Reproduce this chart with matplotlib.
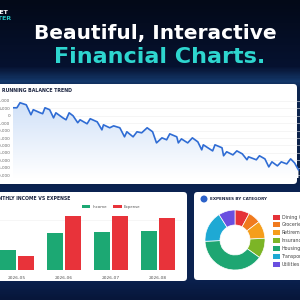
import numpy as np
import matplotlib.pyplot as plt
from matplotlib.patches import FancyBboxPatch, Rectangle, Polygon, Circle
from matplotlib.colors import LinearSegmentedColormap

# running balance (day offset, balance)
days = [0, 5, 9, 17, 23, 26, 35, 38, 41, 47, 52, 55, 64, 68, 72, 77, 83, 86, 95, 99,
        108, 114, 116, 124, 129, 137, 143, 146, 154, 159, 165, 172, 179, 184, 191, 197,
        201, 210, 212, 216, 224, 230, 237, 242, 244, 256, 259, 268, 270, 274, 282, 287,
        294, 300, 302, 312, 316, 323, 328, 332, 339, 344, 351, 356, 361, 366]
balance = [5400, 5400, 8800, 7400, 700, 4100, 2000, 1400, 5400, 4100, -1400, 2000,
           -1400, -2700, 2000, 0, -4700, -2700, -5400, -2000, -4100, -9500, -6100, -8100,
           -6800, -8100, -14200, -10800, -14200, -10800, -11500, -8100, -10800, -18300,
           -14900, -16200, -12200, -14200, -18300, -15600, -18300, -14900, -17600, -23000,
           -19600, -23700, -19600, -21600, -27000, -24300, -26400, -23700, -25700, -29700,
           -27700, -29700, -27000, -29100, -34500, -31100, -33800, -31100, -32500, -29100,
           -31800, -36500]
bal_ticks = [10000, 5000, 0, -5000, -10000, -15000, -20000, -25000, -30000, -35000, -40000]

months = ['2026-05', '2026-06', '2026-07', '2026-08']
income = [2000, 3700, 3800, 3900]
expense = [1400, 5400, 5400, 5200]

categories = ['Dining Out', 'Groceries', 'Retirement', 'Insurance', 'Housing', 'Transport', 'Utilities']
cat_values = [290, 250, 350, 400, 1460, 620, 330]
cat_colors = ['#e53238', '#f07a1e', '#f59e1c', '#7cb526', '#1ea672', '#1ea9d4', '#6a4fe0']

W = H = 300.0
def fx(p): return p / W
def fy(p): return 1 - p / H

fig = plt.figure(figsize=(3, 3), dpi=100)

# background gradient
bg = fig.add_axes([0, 0, 1, 1])
bg.set_axis_off()
bg.set_zorder(-10)
bgcmap = LinearSegmentedColormap.from_list('bg', [
    (0.0, '#030918'), (0.22, '#061230'), (0.27, '#14386a'), (0.29, '#0d2650'),
    (0.6, '#0a1f46'), (0.63, '#0b2452'), (0.93, '#0b2250'), (1.0, '#07163a')])
bg.imshow(np.linspace(0, 1, 300).reshape(-1, 1), cmap=bgcmap, aspect='auto', extent=[0, 1, 0, 1])
bg.set_xlim(0, 1)
bg.set_ylim(0, 1)

# logo bits
fig.text(fx(8.5), fy(12.5), 'BUDGET', color='white', fontsize=4.5, fontweight='bold', ha='right', va='center')
fig.text(fx(11.5), fy(18), 'MASTER', color='#27c6c4', fontsize=4.5, fontweight='bold', ha='right', va='center')

fig.text(fx(155), fy(33), 'Beautiful, Interactive', color='white', fontsize=14.5,
         fontweight='heavy', ha='center', va='center')
fig.text(fx(160), fy(57), 'Financial Charts.', color='#2ed6cf', fontsize=16,
         fontweight='heavy', ha='center', va='center')

def panel(x0, y0, x1, y1):
    p = FancyBboxPatch((fx(x0), fy(y1)), fx(x1 - x0), (y1 - y0) / H,
                       boxstyle='round,pad=0,rounding_size=0.012',
                       transform=fig.transFigure, facecolor='white', edgecolor='none', zorder=-5)
    fig.add_artist(p)

panel(-5, 84, 297, 184)
panel(-5, 192, 187, 281)
panel(194, 192, 305, 280)

# running balance
ax = fig.add_axes([fx(13), fy(178), fx(287), 80 / H])
ax.set_zorder(2)
ax.set_facecolor('none')
ax.set_yticks(bal_ticks)
ax.set_yticklabels([f'{v:,}' for v in bal_ticks])
ax.tick_params(axis='y', labelsize=3, colors='#666666', length=0, pad=2)
ax.tick_params(axis='x', length=0, labelbottom=False)
ax.grid(axis='y', color='#eeeeee', lw=0.4)
for s in ax.spines.values():
    s.set_visible(False)
ax.plot(days, balance, color='#2f6cd4', lw=1.2, zorder=3)
verts = list(zip(days, balance)) + [(days[-1], -42000), (days[0], -42000)]
poly = Polygon(verts, closed=True, facecolor='none', edgecolor='none')
ax.add_patch(poly)
fcmap = LinearSegmentedColormap.from_list('f', ['#ffffff', '#cfe0f8'])
im = ax.imshow(np.linspace(0, 1, 100).reshape(-1, 1), cmap=fcmap, aspect='auto',
               extent=[0, 368, -42000, 10000], origin='lower', zorder=2)
im.set_clip_path(poly)
ax.set_xlim(0, 368)
ax.set_ylim(-42000, 12000)
fig.text(fx(2), fy(91), 'RUNNING BALANCE TREND', color='#1b2440', fontsize=3.4,
         fontweight='bold', ha='left', va='center')

# income vs expense
bx = fig.add_axes([fx(-6.5), fy(270), fx(188), 64 / H])
bx.set_zorder(2)
bx.set_facecolor('none')
x = np.arange(len(months))
bx.bar(x - 0.185, income, 0.34, color='#1ca873', label='Income', zorder=3)
bx.bar(x + 0.185, expense, 0.34, color='#e8333a', label='Expense', zorder=3)
bx.set_xlim(-0.5, 3.5)
bx.set_ylim(0, 6400)
bx.set_xticks(x)
bx.set_xticklabels(months)
bx.tick_params(axis='x', labelsize=3.2, colors='#555555', length=0, pad=4)
bx.tick_params(axis='y', length=0, labelleft=False)
bx.grid(axis='y', color='#f0f0f0', lw=0.4)
for s in bx.spines.values():
    s.set_visible(False)
bx.axhline(0, color='#dddddd', lw=0.5)
fig.text(fx(70), fy(199), 'MONTHLY INCOME VS EXPENSE', color='#1b2440', fontsize=3.3,
         fontweight='bold', ha='right', va='center')
bx.legend(loc='center', bbox_to_anchor=(fx(111), fy(207)), bbox_transform=fig.transFigure,
          ncol=2, frameon=False, fontsize=2.8, handlelength=2.2, handleheight=1.0,
          columnspacing=1.6, handletextpad=0.5, labelcolor='#555555')

# expenses by category
dx = fig.add_axes([fx(205), fy(270), fx(60), 60 / H])
dx.set_zorder(2)
dx.pie(cat_values, colors=cat_colors, startangle=90, counterclock=False, radius=1,
       wedgeprops=dict(width=0.5, edgecolor='white', linewidth=0.5))
dx.set_xlim(-1.0, 1.0)
dx.set_ylim(-1.0, 1.0)
dx.set_aspect('equal')
fig.add_artist(Circle((fx(204), fy(199)), 3.5 / W, transform=fig.transFigure,
                      facecolor='#2c62c9', edgecolor='none'))
fig.text(fx(210), fy(199), 'EXPENSES BY CATEGORY', color='#1b2440', fontsize=3.0,
         fontweight='bold', ha='left', va='center')
for i, (c, col) in enumerate(zip(categories, cat_colors)):
    yy = 217 + i * 7.9
    fig.add_artist(Rectangle((fx(272.5), fy(yy + 2.5)), 7 / W, 5 / H,
                             transform=fig.transFigure, facecolor=col, edgecolor='none'))
    fig.text(fx(282), fy(yy), c, color='#444444', fontsize=3.4, ha='left', va='center')

fig.savefig('out.png', dpi=100)
